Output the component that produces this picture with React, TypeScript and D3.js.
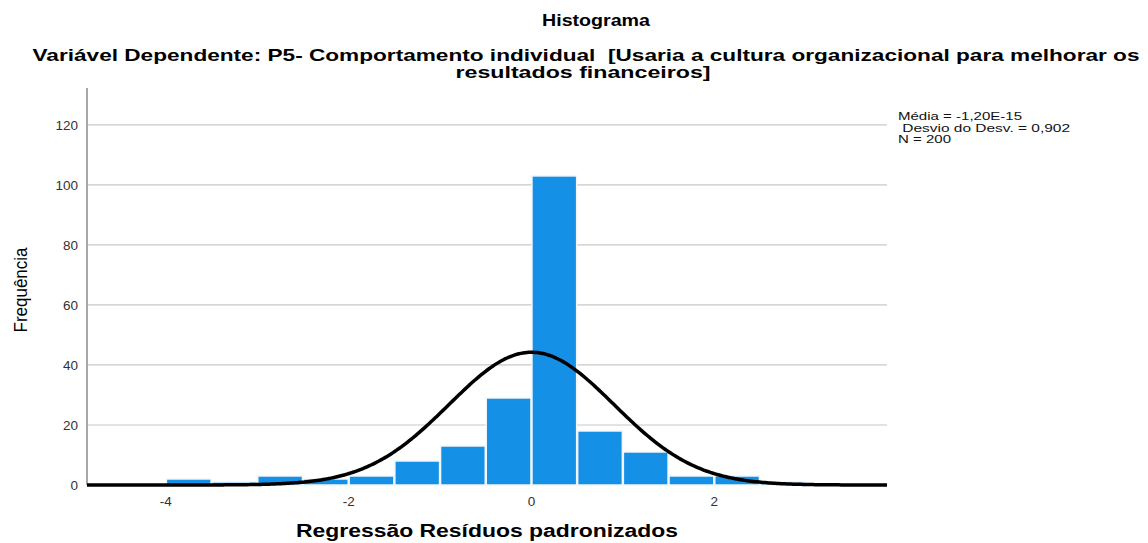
import React from "react";
import * as d3 from "d3";

const binStarts = [-4, -3.5, -3, -2.5, -2, -1.5, -1, -0.5, 0, 0.5, 1, 1.5, 2, 2.5];
const binCounts = [2, 1, 3, 2, 3, 8, 13, 29, 103, 18, 11, 3, 3, 1];
const binWidth = 0.5;
const yTicks = [0, 20, 40, 60, 80, 100, 120];
const xTicks = [-4, -2, 0, 2];
const meanVal = 0;
const sdVal = 0.902;
const nVal = 200;
const statsLines = ["Média = -1,20E-15", " Desvio do Desv. = 0,902", "N = 200"];
const statsWidths = [124, 172, 53];

export default function App() {
  const W = 1148, H = 543;
  const left = 87, right = 887, top = 88, bottom = 485;
  const x = d3.scaleLinear().domain([-4.863, 3.89]).range([left, right]);
  const y = d3.scaleLinear().domain([0, 132.3]).range([bottom, top]);
  const pdf = (v: number) =>
    (nVal * binWidth) / (sdVal * Math.sqrt(2 * Math.PI)) *
    Math.exp(-0.5 * ((v - meanVal) / sdVal) ** 2);
  const pts = d3.range(0, 401).map((i) => {
    const v = -4.863 + (i / 400) * (3.89 + 4.863);
    return [x(v), y(pdf(v))] as [number, number];
  });
  const line = d3.line().curve(d3.curveLinear)(pts) || "";
  const font = "Liberation Sans, Arial, sans-serif";
  return (
    <svg width={W} height={H} style={{ position: "absolute", left: 0, top: 0 }} fontFamily={font}>
      <rect width={W} height={H} fill="#fff" />
      <text x={596} y={26} textAnchor="middle" fontSize={17} fontWeight="bold" textLength={108} lengthAdjust="spacingAndGlyphs">Histograma</text>
      <text x={586} y={61} textAnchor="middle" fontSize={17} fontWeight="bold" textLength={1107} lengthAdjust="spacingAndGlyphs" style={{ whiteSpace: "pre" }}>Variável Dependente: P5- Comportamento individual  [Usaria a cultura organizacional para melhorar os</text>
      <text x={583} y={78} textAnchor="middle" fontSize={17} fontWeight="bold" textLength={255} lengthAdjust="spacingAndGlyphs">resultados financeiros]</text>
      {yTicks.filter((t) => t > 0).map((t) => (
        <line key={"g" + t} x1={left} x2={right} y1={y(t)} y2={y(t)} stroke="#c8c8c8" strokeWidth={1.2} />
      ))}
      <line x1={left} x2={left} y1={top} y2={bottom} stroke="#a8a8a8" strokeWidth={2} />
      {binStarts.map((b, i) => (
        <rect key={"b" + i} x={x(b) + 0.5} y={y(binCounts[i])} width={x(b + binWidth) - x(b) - 1}
          height={bottom - y(binCounts[i])} fill="#1490e6" stroke="#f2f6fa" strokeWidth={1.5} />
      ))}
      <path d={line} fill="none" stroke="#000" strokeWidth={3.5} />
      {yTicks.map((t) => (
        <text key={"yt" + t} x={78} y={y(t) + 5} textAnchor="end" fontSize={13.5} fill="#333">{t}</text>
      ))}
      {xTicks.map((t) => (
        <text key={"xt" + t} x={x(t)} y={506} textAnchor="middle" fontSize={13.5} fill="#333">{t}</text>
      ))}
      <text x={487} y={537} textAnchor="middle" fontSize={18} fontWeight="bold" textLength={382} lengthAdjust="spacingAndGlyphs">Regressão Resíduos padronizados</text>
      <text transform="translate(27,290) rotate(-90)" textAnchor="middle" fontSize={18} textLength={85} lengthAdjust="spacingAndGlyphs">Frequência</text>
      {statsLines.map((s, i) => (
        <text key={"s" + i} x={898} y={120 + i * 11.5} fontSize={11} fill="#111" textLength={statsWidths[i]} lengthAdjust="spacingAndGlyphs" style={{ whiteSpace: "pre" }}>{s}</text>
      ))}
    </svg>
  );
}
